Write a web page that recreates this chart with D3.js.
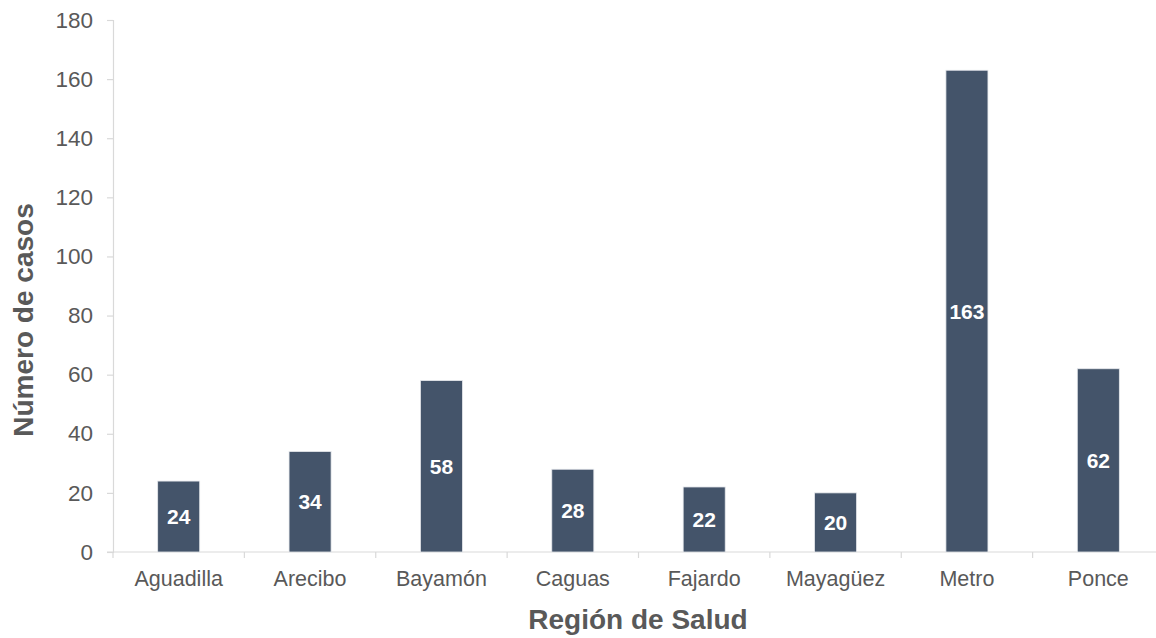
<!DOCTYPE html>
<html>
<head>
<meta charset="utf-8">
<script src="https://cdn.jsdelivr.net/npm/d3@7"></script>
<style>
	body { margin: 0; background: #fff; }
	text { font-family: "Liberation Sans", Arial, sans-serif; }
</style>
</head>
<body>
<svg width="1156" height="638"></svg>
<script>
var regions = ["Aguadilla", "Arecibo", "Bayamón", "Caguas", "Fajardo", "Mayagüez", "Metro", "Ponce"];
var casos = [24, 34, 58, 28, 22, 20, 163, 62];
var yTicks = [0, 20, 40, 60, 80, 100, 120, 140, 160, 180];

var svg = d3.select("svg"),
	plotLeft = 113, plotRight = 1164, plotTop = 20, plotBottom = 552;

var x = d3.scaleBand()
	.domain(regions)
	.range([plotLeft, plotRight])
	.paddingInner(0.68)
	.paddingOuter(0.34);

var y = d3.scaleLinear()
	.domain([0, 180])
	.range([plotBottom, plotTop]);

var axisColor = "#d9d9d9", textColor = "#595959";

// y axis
var yAxis = svg.append("g")
	.attr("transform", "translate(" + plotLeft + ",0)")
	.call(d3.axisLeft(y).tickValues(yTicks).tickSize(6).tickPadding(14));
yAxis.select(".domain").attr("stroke", axisColor).attr("stroke-width", 1.2);
yAxis.selectAll(".tick line").attr("stroke", axisColor).attr("stroke-width", 1.2);
yAxis.selectAll(".tick text")
	.attr("fill", textColor)
	.style("font-size", "22.5px");

// x axis line + boundary ticks
svg.append("line")
	.attr("x1", plotLeft - 6).attr("x2", plotRight)
	.attr("y1", plotBottom).attr("y2", plotBottom)
	.attr("stroke", axisColor).attr("stroke-width", 1.2);

svg.append("g").selectAll("line")
	.data(d3.range(regions.length + 1))
	.enter().append("line")
	.attr("x1", function (i) { return plotLeft + i * (plotRight - plotLeft) / regions.length; })
	.attr("x2", function (i) { return plotLeft + i * (plotRight - plotLeft) / regions.length; })
	.attr("y1", plotBottom)
	.attr("y2", plotBottom + 6)
	.attr("stroke", axisColor).attr("stroke-width", 1.2);

svg.append("g").selectAll("text")
	.data(regions)
	.enter().append("text")
	.attr("x", function (d) { return x(d) + x.bandwidth() / 2; })
	.attr("y", plotBottom + 34)
	.attr("text-anchor", "middle")
	.attr("fill", textColor)
	.style("font-size", "21.5px")
	.text(function (d) { return d; });

// bars
var bars = svg.append("g").selectAll("g")
	.data(regions)
	.enter().append("g");

bars.append("rect")
	.attr("x", function (d) { return x(d); })
	.attr("y", function (d, i) { return y(casos[i]); })
	.attr("width", x.bandwidth())
	.attr("height", function (d, i) { return plotBottom - y(casos[i]); })
	.attr("fill", "#44546a")
	.attr("stroke", "#e6e8ec")
	.attr("stroke-width", 0.8);

bars.append("text")
	.attr("x", function (d) { return x(d) + x.bandwidth() / 2; })
	.attr("y", function (d, i) { return (y(casos[i]) + plotBottom) / 2; })
	.attr("dy", "0.36em")
	.attr("text-anchor", "middle")
	.attr("fill", "#fff")
	.style("font-size", "21px")
	.style("font-weight", "bold")
	.text(function (d, i) { return casos[i]; });

// axis titles
svg.append("text")
	.attr("x", 638)
	.attr("y", 629)
	.attr("text-anchor", "middle")
	.attr("fill", textColor)
	.style("font-size", "28px")
	.style("font-weight", "bold")
	.text("Región de Salud");

svg.append("text")
	.attr("transform", "translate(33,320) rotate(-90)")
	.attr("text-anchor", "middle")
	.attr("fill", textColor)
	.style("font-size", "28px")
	.style("font-weight", "bold")
	.text("Número de casos");
</script>
</body>
</html>
